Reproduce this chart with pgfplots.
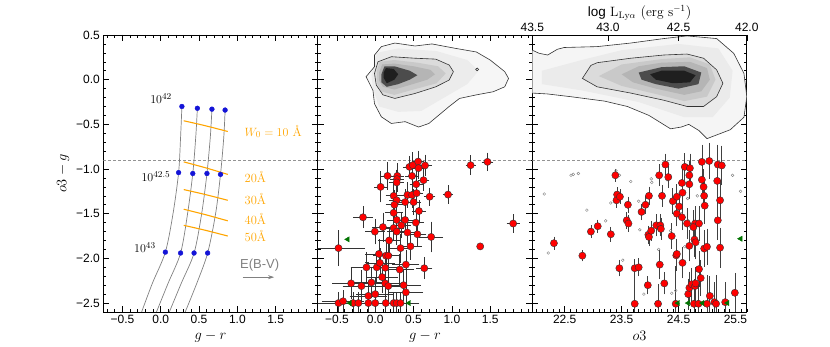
\documentclass[border=0pt]{standalone}
\usepackage{pgfplots}
\pgfplotsset{compat=1.18}
\usepackage{pgfplotstable}
\usepackage{fontspec}
\usetikzlibrary{arrows.meta}
\newfontfamily\lib{Liberation Sans}
\definecolor{orng}{RGB}{255,165,0}
\definecolor{dgreen}{RGB}{0,115,0}
\definecolor{mblue}{RGB}{20,20,215}
\newcommand\lbl{\fontsize{14.4}{16}\selectfont}

% g-r vs o3-g, LAEs with errors
\pgfplotstableread{
x y ex ey
1.465 -0.92 0.05 0.08
1.245 -0.957 0.04 0.09
0.447 -0.976 0.06 0.10
0.49 -0.957 0.06 0.12
0.56 -0.917 0.05 0.10
0.565 -0.99 0.05 0.10
0.65 -0.96 0.06 0.10
0.288 -1.077 0.06 0.12
0.284 -1.113 0.06 0.12
0.28 -1.15 0.07 0.12
0.16 -1.077 0.07 0.13
0.48 -1.077 0.06 0.12
0.63 -1.125 0.05 0.10
0.535 -1.17 0.06 0.14
0.07 -1.20 0.06 0.15
0.95 -1.286 0.04 0.08
0.71 -1.31 0.05 0.08
0.42 -1.29 0.07 0.12
0.48 -1.29 0.06 0.12
0.54 -1.27 0.06 0.10
0.24 -1.30 0.08 0.13
0.28 -1.35 0.08 0.14
0.25 -1.40 0.09 0.14
0.50 -1.37 0.07 0.12
0.39 -1.37 0.08 0.12
0.57 -1.47 0.06 0.10
0.24 -1.49 0.09 0.13
-0.16 -1.54 0.10 0.10
1.80 -1.61 0.06 0.08
0.28 -1.57 0.10 0.12
0.39 -1.57 0.09 0.12
0.53 -1.60 0.08 0.10
0.24 -1.66 0.11 0.12
0.34 -1.63 0.10 0.12
0.28 -1.70 0.10 0.13
-0.005 -1.70 0.10 0.12
0.10 -1.65 0.11 0.14
0.42 -1.71 0.10 0.12
0.55 -1.73 0.09 0.11
0.73 -1.76 0.13 0.15
0.18 -1.80 0.12 0.13
1.37 -1.866 0 0
-0.48 -1.885 0.32 0.18
0.33 -1.885 0.13 0.14
0.46 -1.865 0.12 0.13
0.048 -1.95 0.15 0.14
0.14 -1.97 0.14 0.15
0.17 -1.97 0.14 0.14
-0.115 -2.10 0.18 0.15
0.02 -2.10 0.17 0.15
0.13 -2.105 0.17 0.14
0.64 -2.11 0.08 0.10
0.32 -2.125 0.16 0.15
0.40 -2.07 0.15 0.14
0.06 -2.05 0.17 0.14
0.09 -2.21 0.18 0.15
-0.315 -2.28 0.22 0.15
-0.18 -2.31 0.22 0.16
-0.05 -2.27 0.20 0.15
0.13 -2.28 0.20 0.15
0.17 -2.31 0.20 0.16
0.37 -2.30 0.20 0.15
0.00 -2.40 0.22 0.16
-0.09 -2.42 0.22 0.15
0.40 -2.38 0.20 0.16
-0.48 -2.50 0.25 0.10
-0.42 -2.48 0.25 0.10
-0.29 -2.50 0.25 0.10
-0.22 -2.50 0.25 0.10
-0.09 -2.50 0.25 0.10
0.00 -2.50 0.25 0.10
0.137 -2.50 0.25 0.10
0.24 -2.50 0.22 0.10
0.28 -2.50 0.22 0.10
0.33 -2.50 0.22 0.10
}\grdata

% o3 vs o3-g
\pgfplotstableread{
x y ey
22.31 -1.83 0.05
22.81 -1.97 0.04
22.96 -1.70 0.05
23.08 -1.64 0.05
23.31 -1.73 0.06
23.39 -1.07 0.05
23.42 -1.286 0.06
23.41 -1.35 0.06
23.47 -1.31 0.06
23.46 -2.11 0.07
23.61 -1.40 0.07
23.59 -1.574 0.07
23.62 -1.61 0.07
23.73 -2.11 0.08
23.80 -2.10 0.08
23.73 -2.508 0.40
23.85 -1.48 0.07
23.92 -1.40 0.08
23.98 -1.30 0.08
23.97 -1.735 0.08
23.98 -1.76 0.08
24.02 -1.69 0.09
23.96 -2.30 0.08
24.11 -1.63 0.10
24.18 -1.63 0.10
24.19 -1.67 0.10
24.16 -1.07 0.10
24.27 -0.95 0.10
24.32 -1.09 0.10
24.21 -1.30 0.10
24.17 -2.07 0.14
24.25 -2.28 0.10
24.14 -2.508 0.20
24.40 -1.36 0.12
24.47 -1.31 0.12
24.51 -1.42 0.12
24.47 -1.50 0.12
24.56 -1.54 0.12
24.38 -1.75 0.12
24.46 -1.966 0.15
24.47 -1.95 0.15
24.56 -1.156 0.13
24.57 -1.265 0.13
24.61 -0.976 0.13
24.69 -1.07 0.14
24.69 -1.17 0.14
24.70 -0.99 0.14
24.65 -1.61 0.15
24.69 -1.86 0.15
24.57 -2.05 0.15
24.45 -2.508 0.40
24.77 -2.508 0.25
24.85 -2.508 0.20
24.67 -2.40 0.15
24.69 -2.33 0.16
24.73 -2.29 0.16
24.79 -2.31 0.16
24.80 -2.28 0.16
24.79 -1.61 0.17
24.76 -1.65 0.17
24.78 -1.79 0.17
24.80 -1.82 0.17
24.86 -1.61 0.17
24.86 -2.12 0.18
24.89 -2.22 0.18
24.91 -0.92 0.17
24.91 -1.12 0.17
24.94 -1.20 0.18
24.95 -1.30 0.18
24.96 -1.41 0.18
24.95 -1.89 0.18
25.00 -1.87 0.18
25.04 -0.91 0.18
25.05 -2.42 0.20
25.00 -2.508 0.30
25.13 -2.49 0.20
25.16 -2.508 0.30
25.18 -1.133 0.20
25.19 -0.95 0.20
25.26 -0.96 0.20
25.23 -1.35 0.20
25.19 -1.574 0.20
25.23 -1.88 0.20
25.32 -2.49 0.20
25.49 -2.385 0.20
}\othree

\pgfplotsset{
  panel/.style={
    scale only axis, width=214.5pt, height=277pt, anchor=south west,
    ymin=-2.6, ymax=0.5,
    ytick={-2.5,-2,-1.5,-1,-0.5,0,0.5},
    minor ytick={-2.6,-2.5,...,0.5},
    tick align=inside, major tick length=6pt, minor tick length=3pt,
    tick style={black, line width=0.6pt},
    axis line style={line width=0.9pt},
    ticklabel style={font=\lib\fontsize{12}{12}\selectfont},
  },
  grx/.style={xmin=-0.75, xmax=2.05, xtick={-0.5,0,0.5,1,1.5},
    xticklabels={−0.5,0.0,0.5,1.0,1.5}, minor xtick={-0.7,-0.6,...,2.0},
    xlabel={\lbl $g-r$}},
  dash/.style={gray!85, line width=0.8pt, dash pattern=on 3pt off 2pt},
  cont/.style={black!80, line width=0.6pt},
  red pts/.style={only marks, mark=*, mark size=3.6pt,
    mark options={fill=red, draw=black!80, line width=0.4pt}},
  tri/.style={only marks, mark=triangle*, mark size=3pt,
    mark options={rotate=90, fill=dgreen, draw=dgreen}},
}

\begin{document}
\begin{tikzpicture}

%%% panel 1: model tracks
\begin{axis}[panel, grx, at={(103.3pt,35pt)},
  yticklabels={−2.5,−2.0,−1.5,−1.0,−0.5,0.0,0.5}, ylabel={\lbl $o3-g$}]
\addplot[dash] coordinates {(-0.75,-0.9) (2.05,-0.9)};
\addplot[gray, line width=0.7pt, smooth] coordinates {(-0.25,-2.6) (-0.11,-2.28) (0.06,-1.93) (0.16,-1.50) (0.233,-1.04) (0.259,-0.64) (0.276,-0.30)};
\addplot[gray, line width=0.7pt, smooth] coordinates {(-0.056,-2.6) (0.095,-2.28) (0.259,-1.94) (0.35,-1.50) (0.418,-1.05) (0.457,-0.64) (0.478,-0.32)};
\addplot[gray, line width=0.7pt, smooth] coordinates {(0.112,-2.6) (0.267,-2.28) (0.435,-1.94) (0.534,-1.50) (0.603,-1.05) (0.647,-0.64) (0.668,-0.33)};
\addplot[gray, line width=0.7pt, smooth] coordinates {(0.319,-2.6) (0.47,-2.28) (0.612,-1.94) (0.716,-1.50) (0.78,-1.06) (0.823,-0.64) (0.84,-0.34)};
\addplot[orng, line width=1.1pt, smooth] coordinates {(0.30,-0.46) (0.58,-0.515) (0.875,-0.58)};
\addplot[orng, line width=1.1pt, smooth] coordinates {(0.30,-0.92) (0.58,-0.985) (0.875,-1.06)};
\addplot[orng, line width=1.1pt, smooth] coordinates {(0.30,-1.23) (0.58,-1.285) (0.875,-1.35)};
\addplot[orng, line width=1.1pt, smooth] coordinates {(0.30,-1.45) (0.58,-1.51) (0.875,-1.58)};
\addplot[orng, line width=1.1pt, smooth] coordinates {(0.30,-1.63) (0.58,-1.685) (0.875,-1.75)};
\addplot[only marks, mark=*, mark size=2.4pt, mark options={fill=mblue, draw=mblue}] coordinates {
  (0.276,-0.30) (0.478,-0.32) (0.668,-0.33) (0.84,-0.34)
  (0.233,-1.04) (0.418,-1.05) (0.603,-1.05) (0.78,-1.06)
  (0.06,-1.93) (0.259,-1.94) (0.435,-1.94) (0.612,-1.94)};
\node[anchor=base east, font=\fontsize{12.5}{13}\selectfont] at (axis cs:0.19,-0.266) {$10^{42}$};
\node[anchor=base east, font=\fontsize{12.5}{13}\selectfont] at (axis cs:0.17,-1.14) {$10^{42.5}$};
\node[anchor=base east, font=\fontsize{12.5}{13}\selectfont] at (axis cs:-0.02,-1.935) {$10^{43}$};
\begin{scope}[every node/.style={anchor=west, text=orng, font=\fontsize{12.5}{13}\selectfont}]
\node at (axis cs:1.05,-0.58) {$W_0=10$~\AA};
\node at (axis cs:1.05,-1.09) {20\AA};
\node at (axis cs:1.05,-1.34) {30\AA};
\node at (axis cs:1.05,-1.56) {40\AA};
\node at (axis cs:1.05,-1.75) {50\AA};
\end{scope}
\node[anchor=base, text=gray, font=\lib\fontsize{13}{13}\selectfont] at (axis cs:1.29,-2.115) {E(B-V)};
\draw[-{Stealth[length=6pt,width=4pt]}, gray, line width=0.8pt] (axis cs:1.07,-2.21) -- (axis cs:1.48,-2.21);
\end{axis}

%%% panel 2: g-r
\begin{axis}[panel, grx, at={(317.8pt,35pt)}, yticklabels={}]
\addplot[fill=gray!7, draw=none] coordinates {(-0.12,0.033) (-0.01,0.145) (-0.01,0.276) (0.08,0.37) (0.256,0.41) (0.52,0.377) (0.74,0.40) (1.05,0.35) (1.32,0.31) (1.50,0.22) (1.69,0.09) (1.74,0.014) (1.69,-0.08) (1.54,-0.135) (1.32,-0.17) (1.10,-0.21) (0.965,-0.30) (0.70,-0.49) (0.566,-0.53) (0.39,-0.47) (0.21,-0.49) (0.08,-0.416) (-0.01,-0.27) (-0.03,-0.12)} -- cycle;
\addplot[fill=gray!15, draw=none] coordinates {(-0.05,0.05) (0.02,0.3) (0.3,0.35) (0.8,0.32) (1.2,0.22) (1.35,0.1) (1.2,-0.05) (0.9,-0.2) (0.6,-0.35) (0.3,-0.36) (0.05,-0.3) (-0.03,-0.1)} -- cycle;
\addplot[fill=gray!28, draw=none] coordinates {(-0.01,0.07) (0.035,0.2) (0.21,0.257) (0.52,0.24) (0.79,0.23) (0.965,0.164) (1.02,0.09) (0.965,-0.004) (0.79,-0.08) (0.52,-0.154) (0.256,-0.21) (0.10,-0.17) (0.013,-0.06)} -- cycle;
\addplot[fill=gray!42, draw=none] coordinates {(0.02,0.1) (0.06,0.2) (0.25,0.22) (0.55,0.19) (0.82,0.15) (0.92,0.07) (0.8,-0.04) (0.5,-0.11) (0.25,-0.17) (0.07,-0.13) (0.02,-0.03)} -- cycle;
\addplot[fill=gray!58, draw=none] coordinates {(0.05,0.08) (0.09,0.17) (0.25,0.18) (0.5,0.15) (0.72,0.11) (0.78,0.06) (0.68,0.0) (0.45,-0.06) (0.25,-0.11) (0.1,-0.08) (0.05,-0.01)} -- cycle;
\addplot[fill=black!70, draw=none] coordinates {(0.08,0.06) (0.12,0.15) (0.25,0.15) (0.45,0.1) (0.55,0.05) (0.45,0.0) (0.3,-0.05) (0.15,-0.08) (0.08,-0.03)} -- cycle;
\addplot[fill=black!88, draw=none] coordinates {(0.11,0.08) (0.14,0.13) (0.24,0.12) (0.3,0.06) (0.25,0.0) (0.15,-0.04) (0.11,0.02)} -- cycle;
\addplot[cont] coordinates {(-0.12,0.033) (-0.01,0.145) (-0.01,0.276) (0.08,0.37) (0.256,0.41) (0.52,0.377) (0.74,0.40) (1.05,0.35) (1.32,0.31) (1.50,0.22) (1.69,0.09) (1.74,0.014) (1.69,-0.08) (1.54,-0.135) (1.32,-0.17) (1.10,-0.21) (0.965,-0.30) (0.70,-0.49) (0.566,-0.53) (0.39,-0.47) (0.21,-0.49) (0.08,-0.416) (-0.01,-0.27) (-0.03,-0.12)} -- cycle;
\addplot[cont] coordinates {(-0.01,0.07) (0.035,0.2) (0.21,0.257) (0.52,0.24) (0.79,0.23) (0.965,0.164) (1.02,0.09) (0.965,-0.004) (0.79,-0.08) (0.52,-0.154) (0.256,-0.21) (0.10,-0.17) (0.013,-0.06)} -- cycle;
\addplot[cont] coordinates {(1.31,0.115) (1.33,0.13) (1.35,0.115) (1.33,0.10)} -- cycle;
\addplot[dash] coordinates {(-0.75,-0.9) (2.05,-0.9)};
\addplot[red pts, error bars/.cd, x dir=both, x explicit, y dir=both, y explicit,
  error bar style={black!80, line width=0.7pt},
  error mark options={black!80, line width=0.7pt, mark size=2pt}]
  table[x=x, y=y, x error=ex, y error=ey] {\grdata};
\addplot[tri] coordinates {(-0.36,-1.787) (0.44,-2.50) (-0.33,-2.50)};
\end{axis}

%%% panel 3: o3
\begin{axis}[panel, at={(532.3pt,35pt)}, yticklabels={},
  xmin=21.93, xmax=25.7, xtick={22.5,23.5,24.5,25.5},
  xticklabels={22.5,23.5,24.5,25.5}, minor xtick={22.0,22.1,...,25.7},
  xtick pos=bottom, xlabel={\lbl $o3$}]
\addplot[fill=gray!8, draw=none] coordinates {(21.93,0.33) (22.05,0.295) (22.2,0.276) (22.37,0.34) (22.49,0.36) (23.07,0.37) (23.66,0.41) (24.24,0.46) (24.65,0.49) (25.17,0.46) (25.47,0.295) (25.65,0.07) (25.7,-0.19) (25.65,-0.42) (25.41,-0.56) (25.0,-0.66) (24.86,-0.57) (24.68,-0.5) (24.55,-0.53) (24.36,-0.55) (23.98,-0.40) (23.6,-0.3) (23.2,-0.24) (22.6,-0.19) (22.2,-0.16) (21.93,-0.15)} -- cycle;
\addplot[fill=gray!16, draw=none] coordinates {(22.1,0.1) (22.8,0.22) (23.5,0.33) (24.5,0.4) (25.2,0.35) (25.45,0.1) (25.4,-0.2) (25.1,-0.42) (24.6,-0.42) (23.8,-0.25) (22.8,-0.12) (22.1,-0.05)} -- cycle;
\addplot[fill=gray!28, draw=none] coordinates {(22.81,0.014) (22.96,0.16) (23.07,0.19) (23.66,0.24) (24.24,0.276) (24.65,0.287) (24.94,0.24) (25.17,0.11) (25.28,-0.04) (25.17,-0.19) (24.94,-0.30) (24.65,-0.30) (24.24,-0.23) (23.66,-0.15) (23.07,-0.08)} -- cycle;
\addplot[fill=gray!42, draw=none] coordinates {(23.1,0.04) (23.5,0.17) (24.2,0.23) (24.7,0.25) (25.05,0.17) (25.15,0.0) (25.0,-0.19) (24.6,-0.24) (24.1,-0.16) (23.5,-0.07)} -- cycle;
\addplot[fill=gray!58, draw=none] coordinates {(23.5,0.06) (23.8,0.15) (24.2,0.19) (24.7,0.2) (25.0,0.13) (25.05,0.0) (24.9,-0.13) (24.6,-0.17) (24.1,-0.1) (23.7,-0.03)} -- cycle;
\addplot[fill=black!70, draw=none] coordinates {(23.8,0.08) (24.2,0.14) (24.6,0.15) (24.9,0.08) (24.85,-0.05) (24.5,-0.1) (24.1,-0.05) (23.85,0.0)} -- cycle;
\addplot[fill=black!88, draw=none] coordinates {(24.0,0.06) (24.2,0.1) (24.6,0.1) (24.8,0.05) (24.7,-0.03) (24.4,-0.04) (24.1,0.0)} -- cycle;
\addplot[cont] coordinates {(21.93,0.33) (22.05,0.295) (22.2,0.276) (22.37,0.34) (22.49,0.36) (23.07,0.37) (23.66,0.41) (24.24,0.46) (24.65,0.49) (25.17,0.46) (25.47,0.295) (25.65,0.07) (25.7,-0.19) (25.65,-0.42) (25.41,-0.56) (25.0,-0.66) (24.86,-0.57) (24.68,-0.5) (24.55,-0.53) (24.36,-0.55) (23.98,-0.40) (23.6,-0.3) (23.2,-0.24) (22.6,-0.19) (22.2,-0.16) (21.93,-0.15)};
\addplot[cont] coordinates {(22.81,0.014) (22.96,0.16) (23.07,0.19) (23.66,0.24) (24.24,0.276) (24.65,0.287) (24.94,0.24) (25.17,0.11) (25.28,-0.04) (25.17,-0.19) (24.94,-0.30) (24.65,-0.30) (24.24,-0.23) (23.66,-0.15) (23.07,-0.08)} -- cycle;
\addplot[dash] coordinates {(21.93,-0.9) (25.7,-0.9)};
\addplot[only marks, mark=o, mark size=1.4pt, mark options={draw=gray, line width=0.4pt}] coordinates {
  (22.14,-1.28) (22.21,-1.94) (22.61,-1.07) (22.65,-1.06) (22.74,-1.05) (22.89,-1.46) (23.22,-1.58)
  (23.31,-1.38) (23.46,-1.07) (23.52,-2.02) (23.66,-1.14) (23.80,-1.36) (23.82,-1.68) (23.89,-2.40)
  (24.02,-1.11) (24.03,-1.15) (24.15,-1.90) (24.36,-1.69) (24.38,-2.39) (24.55,-1.50) (24.58,-1.57)
  (24.66,-1.33) (24.67,-1.58) (24.61,-1.87) (24.78,-1.65) (25.45,-1.07) (25.59,-1.25) (24.45,-2.36)
  (24.30,-1.12) (24.83,-1.30) (24.00,-1.32) (24.70,-1.62) (23.40,-1.02)};
\addplot[red pts, error bars/.cd, y dir=both, y explicit,
  error bar style={black!75, line width=0.7pt},
  error mark options={black!75, line width=0.7pt, mark size=2pt}]
  table[x=x, y=y, y error=ey] {\othree};
\addplot[tri] coordinates {(25.59,-1.78) (24.49,-2.5) (24.67,-2.5) (24.92,-2.5) (25.36,-2.5)};
\end{axis}

%%% top axis: Lya luminosity
\begin{axis}[scale only axis, width=214.5pt, height=277pt, anchor=south west, at={(532.3pt,35pt)},
  xmin=21.93, xmax=25.7, ymin=0, ymax=1, axis x line*=top, axis y line=none,
  xtick={21.93,23.26,24.5,25.7}, xticklabels={43.5,43.0,42.5,42.0},
  tick align=inside, major tick length=6pt, tick style={black, line width=0.6pt},
  axis line style={line width=0.9pt},
  ticklabel style={font=\lib\fontsize{12}{12}\selectfont},
  xlabel style={yshift=-4.5pt},
  xlabel={\fontsize{13.5}{15}\selectfont{\lib log} $\mathrm{L_{Ly\alpha}}$ $(\mathrm{erg\ s^{-1}})$}]
\end{axis}

\pgfresetboundingbox
\path[use as bounding box] (0,0) rectangle (830pt,347pt);
\end{tikzpicture}
\end{document}
